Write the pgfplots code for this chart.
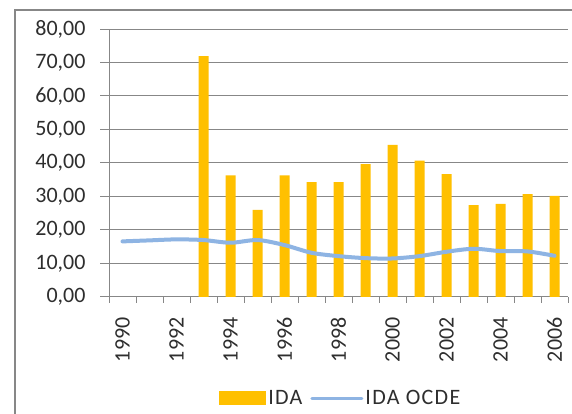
\documentclass[border=0pt]{standalone}
\usepackage{fontspec}
\setmainfont{Carlito}
\usepackage{pgfplots}
\pgfplotsset{compat=1.18}

\definecolor{idabar}{HTML}{FFC000}
\definecolor{idaline}{HTML}{8EB4E3}
\definecolor{gridgray}{HTML}{878787}
\definecolor{txt}{HTML}{2E2E2E}

\begin{document}
\begin{tikzpicture}
\useasboundingbox (0,0) rectangle (572pt,414pt);
\fill[white] (0,0) rectangle (572pt,414pt);
% chart frame (cut by the page edge)
\draw[gridgray, line width=2pt] (15pt,-10pt) rectangle (590pt,404pt);
\begin{axis}[
    at={(109pt,117pt)}, anchor=south west,
    width=459pt, height=268pt, scale only axis,
    xmin=-0.5, xmax=16.5,
    ymin=0, ymax=80,
    ytick={0,10,...,80},
    xtick={0,2,...,16},
    xticklabels={1990,1992,1994,1996,1998,2000,2002,2004,2006},
    minor xtick={-0.5,0.5,...,16.5},
    axis x line*=bottom, axis y line*=left,
    axis line style={gridgray, line width=1pt},
    ymajorgrids, grid style={gridgray, line width=1pt},
    tick align=outside,
    major tick length=9pt, minor tick length=6pt,
    major x tick style={draw=none},
    minor x tick style={gridgray, line width=1pt},
    major y tick style={gridgray, line width=1pt},
    ticklabel style={font=\fontsize{22}{26}\selectfont, text=txt},
    x tick label style={rotate=90, anchor=east, xshift=-8pt},
    y tick label style={xshift=-11pt, /pgf/number format/.cd, fixed, fixed zerofill, precision=2, use comma, assume math mode=true},
    legend style={at={(0.505,-0.377)}, anchor=center, draw=none,
        font=\fontsize{22}{26}\selectfont\addfontfeatures{LetterSpace=6}, text=txt, legend columns=2,
        /tikz/every even column/.append style={column sep=6pt}},
    clip=false,
]
\addplot[ybar, bar width=10pt, fill=idabar, draw=none,
    legend image code/.code={\fill[idabar] (-4pt,-7pt) rectangle (43pt,7pt);}]
  coordinates {(3,71.9) (4,36.3) (5,26.0) (6,36.3) (7,34.3) (8,34.3) (9,39.7)
    (10,45.4) (11,40.7) (12,36.7) (13,27.4) (14,27.8) (15,30.7) (16,30.2)};
\addlegendentry{IDA}
\addplot[idaline, line width=4pt, smooth, line cap=round,
    legend image code/.code={\draw[idaline, line width=3pt] (0pt,0pt) -- (50pt,0pt);}]
  coordinates {(0,16.6) (1,16.9) (2,17.2) (3,17.0) (4,16.2) (5,17.0) (6,15.5)
    (7,13.2) (8,12.2) (9,11.6) (10,11.5) (11,12.2) (12,13.5) (13,14.4)
    (14,13.7) (15,13.6) (16,12.3)};
\addlegendentry{IDA OCDE}
\end{axis}
\end{tikzpicture}
\end{document}
